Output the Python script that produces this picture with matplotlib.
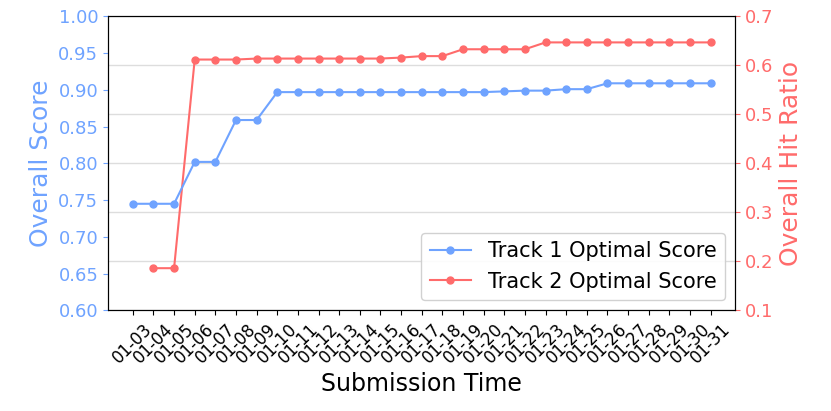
import matplotlib
matplotlib.use("Agg")
import matplotlib.pyplot as plt
import numpy as np

dates = ["01-%02d" % d for d in range(3, 32)]
track1 = [0.745, 0.745, 0.745, 0.802, 0.802, 0.859, 0.859] + [0.897] * 11 + \
         [0.898, 0.899, 0.899, 0.901, 0.901] + [0.909] * 6
track2 = [np.nan, 0.186, 0.186, 0.612, 0.612, 0.612] + [0.614] * 7 + \
         [0.616, 0.619, 0.619] + [0.633] * 4 + [0.647] * 9

blue = "#6fa3ff"
red = "#ff6b6b"

fig, ax = plt.subplots(figsize=(8.31, 4.11), dpi=100)
ax2 = ax.twinx()
x = np.arange(len(dates))
l1, = ax.plot(x, track1, "-o", color=blue, ms=5, lw=1.5, label="Track 1 Optimal Score")
l2, = ax2.plot(x, track2, "-o", color=red, ms=5, lw=1.5, label="Track 2 Optimal Score")

ax.set_ylim(0.6, 1.0)
ax.set_yticks(np.arange(0.6, 1.001, 0.05))
ax2.set_ylim(0.1, 0.7)
ax2.set_yticks(np.arange(0.1, 0.701, 0.1))
ax2.grid(axis="y", color="#dddddd", lw=1)
ax.set_zorder(ax2.get_zorder() + 1)
ax.patch.set_visible(False)

ax.set_xlim(-1.2, len(dates) + 0.2)
ax.set_xticks(x)
ax.set_xticklabels(dates, rotation=45, fontsize=12)
ax.tick_params(axis="y", colors=blue, labelsize=13)
ax2.tick_params(axis="y", colors=red, labelsize=13)
ax.set_ylabel("Overall Score", color=blue, fontsize=18)
ax2.set_ylabel("Overall Hit Ratio", color=red, fontsize=18)
ax.set_xlabel("Submission Time", fontsize=17)
ax.legend(handles=[l1, l2], loc="lower right", fontsize=15, framealpha=0.9)

fig.subplots_adjust(left=0.13, right=0.885, top=0.96, bottom=0.245)
fig.savefig("out.png")
